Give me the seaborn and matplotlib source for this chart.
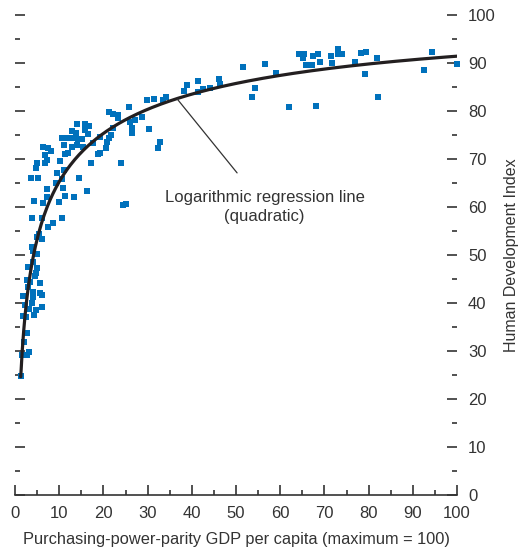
import numpy as np
import pandas as pd
import matplotlib
matplotlib.use("Agg")
import matplotlib.pyplot as plt
from matplotlib.ticker import MultipleLocator
import seaborn as sns

# GDP per capita index (max = 100) and Human Development Index
gdp = [
    41.4, 38.9, 38.2, 41.4, 34.2, 33.5, 31.4, 29.9, 25.8, 21.3, 22.2, 23.3, 23.3, 28.7, 27.1,
    26.0, 22.2, 26.5, 26.5, 30.3, 21.7, 21.3, 20.8, 20.6, 19.2, 32.8, 32.4, 18.8, 24.0, 17.2,
    24.4, 25.1, 14.0, 15.8, 16.7, 15.8, 16.5, 12.9, 13.8, 10.6, 11.5, 12.4, 13.3, 14.3, 15.2,
    19.2, 11.1, 12.9, 14.0, 15.4, 17.6, 6.3, 7.5, 8.1, 6.8, 7.2, 6.8, 11.3, 12.0, 10.2,
    5.0, 4.8, 11.1, 9.5, 3.6, 5.2, 14.5, 9.3, 10.6, 7.2, 10.9, 16.3, 11.3, 13.3, 10.0,
    4.3, 6.3, 7.2, 3.8, 6.1, 10.6, 8.6, 7.5, 5.4, 5.0, 6.1, 3.8, 4.1, 5.0,
    4.1, 2.9, 5.0, 4.8, 4.5, 2.7, 3.4, 5.7, 2.9, 1.8, 4.1, 4.1, 5.7, 6.1, 2.3,
    3.2, 3.8, 4.8, 6.1, 1.8, 2.5, 4.3, 2.7, 2.0, 1.6, 2.7, 3.2, 1.4,
    46.2, 46.4, 44.1, 42.5, 51.6, 56.6, 59.0, 54.3, 53.6, 62.0, 64.3, 65.4, 65.2, 65.8, 67.2,
    67.4, 68.6, 69.0, 68.1, 71.5, 71.7, 73.1, 73.1, 74.0, 76.9, 78.3, 79.4, 79.2, 81.9, 82.1,
    92.5, 94.3, 100.0,
]
hdi = [
    86.3, 85.4, 84.2, 84.0, 82.9, 82.3, 82.5, 82.3, 80.8, 79.8, 79.4, 79.2, 78.5, 78.8, 78.1,
    77.7, 76.5, 76.5, 75.4, 76.3, 75.0, 74.4, 73.5, 72.3, 71.3, 73.5, 72.3, 71.0, 69.2, 69.2,
    60.4, 60.6, 77.3, 77.3, 76.9, 76.0, 75.2, 75.8, 75.4, 74.4, 74.4, 74.4, 74.4, 74.2, 74.2,
    74.6, 72.9, 72.5, 72.9, 72.5, 73.3, 72.5, 72.3, 71.7, 70.8, 69.8, 69.2, 71.0, 71.3, 69.6,
    69.2, 68.1, 67.7, 67.1, 66.0, 66.0, 66.0, 65.0, 65.8, 63.8, 64.0, 63.3, 62.3, 62.1, 61.0,
    61.3, 60.8, 62.1, 57.7, 57.7, 57.7, 56.7, 55.8, 54.4, 53.8, 53.3, 51.7, 50.8, 50.2,
    48.5, 47.5, 47.3, 46.3, 45.6, 44.8, 44.4, 44.2, 43.3, 41.5, 42.3, 41.3, 42.1, 41.7, 39.6,
    38.8, 40.0, 38.5, 39.2, 37.3, 37.1, 37.5, 33.8, 31.9, 29.2, 29.2, 29.8, 24.8,
    86.7, 85.6, 84.8, 84.6, 89.2, 89.8, 87.9, 84.8, 82.9, 80.8, 91.9, 91.9, 91.0, 89.6, 89.6,
    91.5, 91.9, 90.2, 81.0, 91.5, 90.0, 92.9, 91.9, 91.9, 90.2, 92.1, 92.3, 87.7, 91.0, 82.9,
    88.5, 92.3, 89.8,
]

x_ticks = list(range(0, 101, 10))
y_ticks = list(range(0, 101, 10))
annotation_text = "Logarithmic regression line\n(quadratic)"
x_title = "Purchasing-power-parity GDP per capita (maximum = 100)"
y_title = "Human Development Index"

df = pd.DataFrame({"gdp": gdp, "hdi": hdi})

# quadratic regression on log(GDP)
coef = np.polyfit(np.log(df["gdp"]), df["hdi"], 2)
xs = np.linspace(1.3, 100, 300)
fit = pd.DataFrame({"gdp": xs, "hdi": np.polyval(coef, np.log(xs))})

sns.set_style("ticks")
plt.rcParams["font.family"] = ["Liberation Sans Narrow", "Liberation Sans", "DejaVu Sans"]
text_color = "#333333"

fig = plt.figure(figsize=(5.23, 5.54), dpi=100)
ax = fig.add_axes([15 / 523, 1 - 495 / 554, 442 / 523, 480 / 554])

sns.scatterplot(data=df, x="gdp", y="hdi", ax=ax, marker="s", s=24,
                color="#0071bc", linewidth=0, zorder=2, clip_on=False)
sns.lineplot(data=fit, x="gdp", y="hdi", ax=ax, color="#231f20", linewidth=2.3,
             zorder=3)

ax.set_xlim(0, 100)
ax.set_ylim(0, 100)
ax.set_xticks(x_ticks)
ax.set_yticks(y_ticks)
ax.xaxis.set_minor_locator(MultipleLocator(5))
ax.yaxis.set_minor_locator(MultipleLocator(5))

for s in ["top", "left", "right"]:
    ax.spines[s].set_visible(False)
ax.spines["bottom"].set_linewidth(1.2)
ax.spines["bottom"].set_color(text_color)

ax.tick_params(axis="both", which="both", direction="in", color=text_color,
               labelcolor=text_color, labelsize=12, width=1.2)
ax.tick_params(axis="both", which="major", length=7.5, pad=8)
ax.tick_params(axis="both", which="minor", length=3.8)
ax.tick_params(axis="y", which="both", left=True, right=True,
               labelleft=False, labelright=True)

ax.set_xlabel(x_title, fontsize=11.8, color=text_color, labelpad=8)
ax.yaxis.set_label_position("right")
ax.set_ylabel(y_title, fontsize=11.5, color=text_color, labelpad=6)

ax.annotate(annotation_text, xy=(36.7, 82.5), xytext=(56.5, 60.0),
            ha="center", va="center", fontsize=12, color=text_color,
            linespacing=1.3,
            arrowprops=dict(arrowstyle="-", color=text_color, lw=0.9,
                            shrinkA=13, shrinkB=0))

fig.savefig("out.png", dpi=100)
